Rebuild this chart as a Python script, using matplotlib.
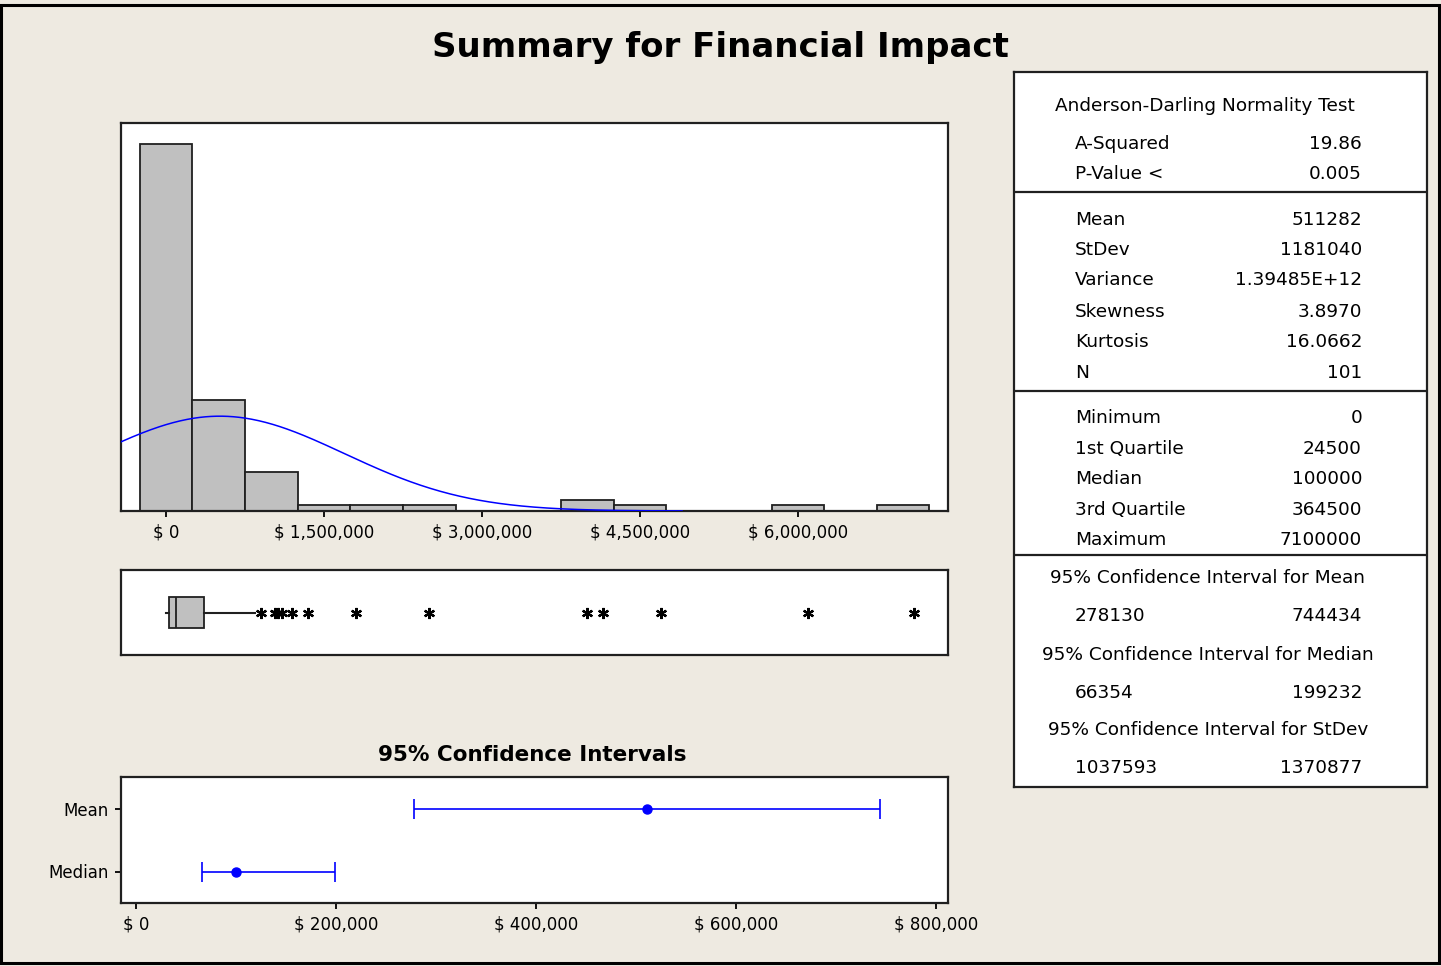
import numpy as np
import matplotlib
matplotlib.use("Agg")
import matplotlib.pyplot as plt
from matplotlib.patches import Rectangle
from matplotlib.ticker import FuncFormatter


# histogram (bin width 500,000)
bin_centers = [0, 500000, 1000000, 1500000, 2000000, 2500000, 3000000,
               3500000, 4000000, 4500000, 5000000, 5500000, 6000000,
               6500000, 7000000]
bin_counts = [66, 20, 7, 1, 1, 1, 0, 0, 2, 1, 0, 0, 1, 0, 1]
bin_width = 500000
hist_ticks = [0, 1500000, 3000000, 4500000, 6000000]

# descriptive statistics
n_obs = 101
mean_val = 511282
stdev_val = 1181040
q1_val = 24500
median_val = 100000
q3_val = 364500
whisker_lo = 0
whisker_hi = 850000
outliers = [900000, 1040000, 1060000, 1100000, 1200000, 1350000, 1800000,
            2500000, 4000000, 4150000, 4700000, 6100000, 7100000]

# confidence intervals
ci_labels = ["Median", "Mean"]
ci_centers = [median_val, mean_val]
ci_low = [66354, 278130]
ci_high = [199232, 744434]
ci_ticks = [0, 200000, 400000, 600000, 800000]

# text panel
ad_rows = [("A-Squared", "19.86"), ("P-Value <", "0.005")]
moment_rows = [("Mean", "511282"), ("StDev", "1181040"),
               ("Variance", "1.39485E+12"), ("Skewness", "3.8970"),
               ("Kurtosis", "16.0662"), ("N", "101")]
quantile_rows = [("Minimum", "0"), ("1st Quartile", "24500"),
                 ("Median", "100000"), ("3rd Quartile", "364500"),
                 ("Maximum", "7100000")]
ci_rows = [("95% Confidence Interval for Mean", "278130", "744434"),
           ("95% Confidence Interval for Median", "66354", "199232"),
           ("95% Confidence Interval for StDev", "1037593", "1370877")]


W, H = 1441, 966
BG = "#EEEAE1"
GRAY = "#C0C0C0"
BLUE = "#0000FF"

plt.rcParams["font.family"] = "DejaVu Sans"

fig = plt.figure(figsize=(W / 100, H / 100), dpi=100)
fig.patch.set_facecolor(BG)


def px_axes(left, top, right, bottom):
    return fig.add_axes([left / W, 1 - bottom / H,
                         (right - left) / W, (bottom - top) / H])


def money(v, pos=None):
    return f"$ {v:,.0f}"


def frame(ax):
    for s in ax.spines.values():
        s.set_linewidth(1.6)
        s.set_color("#202020")


fig.patches.append(Rectangle((1 / W, 1 - 963 / H), 1438 / W, 958 / H,
                             transform=fig.transFigure, fill=False,
                             edgecolor="black", linewidth=2.2))

fig.text(720 / W, 1 - 47 / H, "Summary for Financial Impact",
         ha="center", va="center", fontsize=24.5, fontweight="bold")

# histogram
x_lo, x_hi = -427000, 7426000
ax1 = px_axes(121, 123, 948, 511)
ax1.bar(bin_centers, bin_counts, width=bin_width, color=GRAY,
        edgecolor="#202020", linewidth=1.3, zorder=2)
xs = np.linspace(x_lo, 4900000, 400)
pdf = np.exp(-0.5 * ((xs - mean_val) / stdev_val) ** 2) / (stdev_val * np.sqrt(2 * np.pi))
ax1.plot(xs, n_obs * bin_width * pdf, color=BLUE, linewidth=1.1, zorder=3)
ax1.set_xlim(x_lo, x_hi)
ax1.set_ylim(0, 69.8)
ax1.set_yticks([])
ax1.set_xticks(hist_ticks)
ax1.xaxis.set_major_formatter(FuncFormatter(money))
ax1.tick_params(axis="x", direction="out", length=4, width=1.3,
                labelsize=12, pad=5)
frame(ax1)

# boxplot
ax2 = px_axes(121, 570, 948, 655)
box_stats = [{"med": median_val, "q1": q1_val, "q3": q3_val,
              "whislo": whisker_lo, "whishi": whisker_hi,
              "fliers": outliers}]
ax2.bxp(box_stats, positions=[1], widths=0.73, vert=False,
        showcaps=False, patch_artist=True,
        boxprops=dict(facecolor=GRAY, edgecolor="#202020", linewidth=1.3),
        medianprops=dict(color="#202020", linewidth=1.3),
        whiskerprops=dict(color="#202020", linewidth=1.5),
        flierprops=dict(marker=(6, 2, 0), markersize=8,
                        markeredgecolor="black", markeredgewidth=1.6,
                        markerfacecolor="black", linestyle="none"))
ax2.set_xlim(x_lo, x_hi)
ax2.set_ylim(0, 2)
ax2.set_xticks([])
ax2.set_yticks([])
frame(ax2)

# confidence intervals
ax3 = px_axes(121, 777, 948, 903)
for i, (c, lo, hi) in enumerate(zip(ci_centers, ci_low, ci_high)):
    ax3.errorbar([c], [i + 1], xerr=[[c - lo], [hi - c]], fmt="o",
                 color=BLUE, markersize=6.5, capsize=7.2,
                 elinewidth=1.2, capthick=1.2)
ax3.set_xlim(-15000, 812000)
ax3.set_ylim(0.5, 2.5)
ax3.set_yticks([1, 2])
ax3.set_yticklabels(ci_labels)
ax3.set_xticks(ci_ticks)
ax3.xaxis.set_major_formatter(FuncFormatter(money))
ax3.tick_params(direction="out", length=4, width=1.3, labelsize=12, pad=5)
frame(ax3)
fig.text(532 / W, 1 - 755 / H, "95% Confidence Intervals",
         ha="center", va="center", fontsize=15.5, fontweight="bold")

# statistics panel, drawn in pixel units
ax4 = px_axes(1014, 72, 1427, 787)
ax4.set_xlim(1014, 1427)
ax4.set_ylim(787, 72)
ax4.set_xticks([])
ax4.set_yticks([])
ax4.set_facecolor("white")
frame(ax4)
for y in [192, 391, 555]:
    ax4.axhline(y, color="#202020", linewidth=1.6)

fs = 13.3
lx, rx = 1075, 1362
ax4.text(1205, 106, "Anderson-Darling Normality Test", ha="center",
         va="center", fontsize=fs)
for (lab, val), y in zip(ad_rows, [144, 174]):
    ax4.text(lx, y, lab, ha="left", va="center", fontsize=fs)
    ax4.text(rx, y, val, ha="right", va="center", fontsize=fs)
for (lab, val), y in zip(moment_rows, [220, 250, 280, 312, 342, 373]):
    ax4.text(lx, y, lab, ha="left", va="center", fontsize=fs)
    ax4.text(rx, y, val, ha="right", va="center", fontsize=fs)
for (lab, val), y in zip(quantile_rows, [418, 449, 479, 510, 540]):
    ax4.text(lx, y, lab, ha="left", va="center", fontsize=fs)
    ax4.text(rx, y, val, ha="right", va="center", fontsize=fs)
for (head, lo, hi), y in zip(ci_rows, [578, 655, 730]):
    ax4.text(1208, y, head, ha="center", va="center", fontsize=fs)
    ax4.text(lx, y + 38, lo, ha="left", va="center", fontsize=fs)
    ax4.text(rx, y + 38, hi, ha="right", va="center", fontsize=fs)

fig.savefig("out.png", dpi=100, facecolor=BG)
